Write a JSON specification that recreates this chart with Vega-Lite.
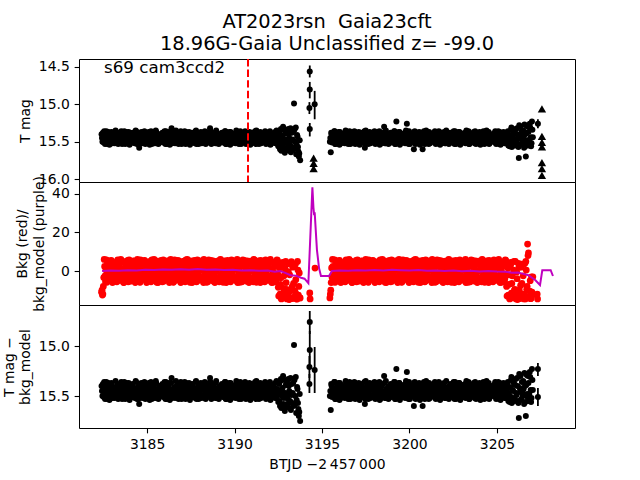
{
"$schema": "https://vega.github.io/schema/vega-lite/v6.json",
"background": "white",
"padding": {"left": 1, "top": 11, "right": 60, "bottom": 2},
"spacing": 0,
"bounds": "flush",
"config": {
  "font": "DejaVu Sans",
  "view": {"stroke": "black", "strokeWidth": 1},
  "axis": {"grid": false, "domain": false, "tickColor": "black", "tickSize": 4.86, "tickWidth": 1.1, "labelFontSize": 13.9, "labelColor": "black", "labelPadding": 4.86, "titleFontSize": 13.9, "titleFontWeight": "normal", "titleColor": "black", "titlePadding": 5.56, "titleLineHeight": 16.7, "labelFlush": false, "labelOverlap": false, "labelBound": false}
},
"datasets": {
"band": [
{"t":3182.40,"m":15.40,"k":-11},{"t":3182.45,"m":15.50,"k":-12.5},{"t":3182.50,"m":15.43,"k":-8},{"t":3182.55,"m":15.36,"k":6.0},{"t":3182.60,"m":15.53,"k":-2.6},{"t":3182.65,"m":15.46,"k":0.5},{"t":3182.70,"m":15.41,"k":-5.9},{"t":3182.75,"m":15.49,"k":4.6},{"t":3182.80,"m":15.37,"k":-1.3},{"t":3182.85,"m":15.54,"k":2.9},
{"t":3182.90,"m":15.44,"k":-4.0},{"t":3182.95,"m":15.39,"k":5.5},{"t":3183.00,"m":15.51,"k":-0.5},{"t":3183.05,"m":15.47,"k":2.1},{"t":3183.10,"m":15.42,"k":-5.3},{"t":3183.15,"m":15.52,"k":4.0},{"t":3183.20,"m":15.35,"k":-3.1},{"t":3183.25,"m":15.48,"k":0.1},{"t":3183.30,"m":15.45,"k":5.1},{"t":3183.35,"m":15.53,"k":3.5},
{"t":3183.40,"m":15.40,"k":-4.8},{"t":3183.45,"m":15.50,"k":1.6},{"t":3183.50,"m":15.43,"k":6.0},{"t":3183.55,"m":15.40,"k":-2.6},{"t":3183.60,"m":15.50,"k":0.5},{"t":3183.65,"m":15.43,"k":-5.9},{"t":3183.70,"m":15.36,"k":4.6},{"t":3183.75,"m":15.53,"k":-1.3},{"t":3183.80,"m":15.46,"k":2.9},{"t":3183.85,"m":15.41,"k":-4.0},
{"t":3183.90,"m":15.49,"k":5.5},{"t":3183.95,"m":15.37,"k":-0.5},{"t":3184.00,"m":15.54,"k":2.1},{"t":3184.05,"m":15.44,"k":-5.3},{"t":3184.10,"m":15.39,"k":4.0},{"t":3184.15,"m":15.51,"k":-3.1},{"t":3184.20,"m":15.47,"k":0.1},{"t":3184.25,"m":15.42,"k":5.1},{"t":3184.30,"m":15.52,"k":3.5},{"t":3184.35,"m":15.35,"k":-4.8},
{"t":3184.40,"m":15.48,"k":1.6},{"t":3184.45,"m":15.45,"k":6.0},{"t":3184.50,"m":15.53,"k":-2.6},{"t":3184.55,"m":15.58,"k":0.5},{"t":3184.60,"m":15.50,"k":-5.9},{"t":3184.65,"m":15.43,"k":4.6},{"t":3184.70,"m":15.40,"k":-1.3},{"t":3184.75,"m":15.50,"k":2.9},{"t":3184.80,"m":15.43,"k":-4.0},{"t":3184.85,"m":15.36,"k":5.5},
{"t":3184.90,"m":15.53,"k":-0.5},{"t":3184.95,"m":15.46,"k":2.1},{"t":3185.00,"m":15.41,"k":-5.3},{"t":3185.05,"m":15.49,"k":4.0},{"t":3185.10,"m":15.37,"k":-3.1},{"t":3185.15,"m":15.54,"k":0.1},{"t":3185.20,"m":15.44,"k":5.1},{"t":3185.25,"m":15.39,"k":3.5},{"t":3185.30,"m":15.51,"k":-4.8},{"t":3185.35,"m":15.47,"k":1.6},
{"t":3185.40,"m":15.42,"k":6.0},{"t":3185.45,"m":15.52,"k":-2.6},{"t":3185.50,"m":15.35,"k":0.5},{"t":3185.55,"m":15.48,"k":-5.9},{"t":3185.60,"m":15.45,"k":4.6},{"t":3185.65,"m":15.53,"k":-1.3},{"t":3185.70,"m":15.40,"k":2.9},{"t":3185.75,"m":15.50,"k":-4.0},{"t":3185.80,"m":15.43,"k":5.5},{"t":3185.85,"m":15.40,"k":-0.5},
{"t":3185.90,"m":15.50,"k":2.1},{"t":3185.95,"m":15.43,"k":-5.3},{"t":3186.00,"m":15.36,"k":4.0},{"t":3186.05,"m":15.53,"k":-3.1},{"t":3186.10,"m":15.46,"k":0.1},{"t":3186.15,"m":15.41,"k":5.1},{"t":3186.20,"m":15.49,"k":3.5},{"t":3186.25,"m":15.37,"k":-4.8},{"t":3186.30,"m":15.54,"k":1.6},{"t":3186.35,"m":15.44,"k":6.0},
{"t":3186.40,"m":15.32,"k":-2.6},{"t":3186.45,"m":15.51,"k":0.5},{"t":3186.50,"m":15.47,"k":-5.9},{"t":3186.55,"m":15.42,"k":4.6},{"t":3186.60,"m":15.52,"k":-1.3},{"t":3186.65,"m":15.35,"k":2.9},{"t":3186.70,"m":15.48,"k":-4.0},{"t":3186.75,"m":15.45,"k":5.5},{"t":3186.80,"m":15.53,"k":-0.5},{"t":3186.85,"m":15.40,"k":2.1},
{"t":3186.90,"m":15.50,"k":-5.3},{"t":3186.95,"m":15.43,"k":4.0},{"t":3187.00,"m":15.40,"k":-3.1},{"t":3187.05,"m":15.50,"k":0.1},{"t":3187.10,"m":15.43,"k":5.1},{"t":3187.15,"m":15.36,"k":3.5},{"t":3187.20,"m":15.53,"k":-4.8},{"t":3187.25,"m":15.46,"k":1.6},{"t":3187.30,"m":15.41,"k":6.0},{"t":3187.35,"m":15.49,"k":-2.6},
{"t":3187.40,"m":15.37,"k":0.5},{"t":3187.45,"m":15.54,"k":-5.9},{"t":3187.50,"m":15.44,"k":4.6},{"t":3187.55,"m":15.39,"k":-1.3},{"t":3187.60,"m":15.51,"k":2.9},{"t":3187.65,"m":15.47,"k":-4.0},{"t":3187.70,"m":15.42,"k":5.5},{"t":3187.75,"m":15.52,"k":-0.5},{"t":3187.80,"m":15.35,"k":2.1},{"t":3187.85,"m":15.48,"k":-5.3},
{"t":3187.90,"m":15.45,"k":4.0},{"t":3187.95,"m":15.53,"k":-3.1},{"t":3188.00,"m":15.40,"k":0.1},{"t":3188.05,"m":15.50,"k":5.1},{"t":3188.10,"m":15.43,"k":3.5},{"t":3188.15,"m":15.40,"k":-4.8},{"t":3188.20,"m":15.50,"k":1.6},{"t":3188.25,"m":15.43,"k":6.0},{"t":3188.30,"m":15.36,"k":-2.6},{"t":3188.35,"m":15.53,"k":0.5},
{"t":3188.40,"m":15.46,"k":-5.9},{"t":3188.45,"m":15.41,"k":4.6},{"t":3188.50,"m":15.49,"k":-1.3},{"t":3188.55,"m":15.37,"k":2.9},{"t":3188.60,"m":15.32,"k":-4.0},{"t":3188.65,"m":15.44,"k":5.5},{"t":3188.70,"m":15.39,"k":-0.5},{"t":3188.75,"m":15.51,"k":2.1},{"t":3188.80,"m":15.47,"k":-5.3},{"t":3188.85,"m":15.42,"k":4.0},
{"t":3188.90,"m":15.52,"k":-3.1},{"t":3188.95,"m":15.35,"k":0.1},{"t":3189.00,"m":15.48,"k":5.1},{"t":3189.05,"m":15.45,"k":3.5},{"t":3189.10,"m":15.53,"k":-4.8},{"t":3189.15,"m":15.40,"k":1.6},{"t":3189.20,"m":15.50,"k":6.0},{"t":3189.25,"m":15.43,"k":-2.6},{"t":3189.30,"m":15.40,"k":0.5},{"t":3189.35,"m":15.50,"k":-5.9},
{"t":3189.40,"m":15.43,"k":4.6},{"t":3189.45,"m":15.36,"k":-1.3},{"t":3189.50,"m":15.53,"k":2.9},{"t":3189.55,"m":15.46,"k":-4.0},{"t":3189.60,"m":15.41,"k":5.5},{"t":3189.65,"m":15.49,"k":-0.5},{"t":3189.70,"m":15.37,"k":2.1},{"t":3189.75,"m":15.54,"k":-5.3},{"t":3189.80,"m":15.44,"k":4.0},{"t":3189.85,"m":15.39,"k":-3.1},
{"t":3189.90,"m":15.51,"k":0.1},{"t":3189.95,"m":15.47,"k":5.1},{"t":3190.00,"m":15.42,"k":3.5},{"t":3190.05,"m":15.52,"k":-4.8},{"t":3190.10,"m":15.35,"k":1.6},{"t":3190.15,"m":15.48,"k":6.0},{"t":3190.20,"m":15.45,"k":-2.6},{"t":3190.25,"m":15.53,"k":0.5},{"t":3190.30,"m":15.40,"k":-5.9},{"t":3190.35,"m":15.50,"k":4.6},
{"t":3190.40,"m":15.43,"k":-1.3},{"t":3190.45,"m":15.40,"k":2.9},{"t":3190.50,"m":15.50,"k":-4.0},{"t":3190.55,"m":15.43,"k":5.5},{"t":3190.60,"m":15.36,"k":-0.5},{"t":3190.65,"m":15.53,"k":2.1},{"t":3190.70,"m":15.46,"k":-5.3},{"t":3190.75,"m":15.41,"k":4.0},{"t":3190.80,"m":15.49,"k":-3.1},{"t":3190.85,"m":15.37,"k":0.1},
{"t":3190.90,"m":15.54,"k":5.1},{"t":3190.95,"m":15.44,"k":3.5},{"t":3191.00,"m":15.39,"k":-4.8},{"t":3191.05,"m":15.51,"k":1.6},{"t":3191.10,"m":15.47,"k":6.0},{"t":3191.15,"m":15.42,"k":-2.6},{"t":3191.20,"m":15.52,"k":0.5},{"t":3191.25,"m":15.35,"k":-5.9},{"t":3191.30,"m":15.48,"k":4.6},{"t":3191.35,"m":15.45,"k":-1.3},
{"t":3191.40,"m":15.53,"k":2.9},{"t":3191.45,"m":15.40,"k":-4.0},{"t":3191.50,"m":15.50,"k":5.5},{"t":3191.55,"m":15.43,"k":-0.5},{"t":3191.60,"m":15.40,"k":2.1},{"t":3191.65,"m":15.50,"k":-5.3},{"t":3191.70,"m":15.43,"k":4.0},{"t":3191.75,"m":15.36,"k":-3.1},{"t":3191.80,"m":15.53,"k":0.1},{"t":3191.85,"m":15.46,"k":5.1},
{"t":3191.90,"m":15.41,"k":3.5},{"t":3191.95,"m":15.49,"k":-4.8},{"t":3192.00,"m":15.37,"k":1.6},{"t":3192.05,"m":15.54,"k":6.0},{"t":3192.10,"m":15.44,"k":-2.6},{"t":3192.15,"m":15.39,"k":0.5},{"t":3192.20,"m":15.51,"k":-5.9},{"t":3192.25,"m":15.47,"k":4.6},{"t":3192.30,"m":15.42,"k":-1.3},{"t":3192.35,"m":15.52,"k":2.9},
{"t":3192.40,"m":15.35,"k":-4.0},{"t":3192.45,"m":15.48,"k":5.5},{"t":3192.50,"m":15.56,"k":-8.5},{"t":3192.55,"m":15.38,"k":3.0},{"t":3192.60,"m":15.60,"k":-12.0},{"t":3192.65,"m":15.33,"k":-3.5},{"t":3192.70,"m":15.50,"k":-14.0},{"t":3192.75,"m":15.42,"k":4.5},{"t":3192.80,"m":15.58,"k":-9.0},{"t":3192.85,"m":15.34,"k":-13.5},
{"t":3192.90,"m":15.47,"k":1.0},{"t":3192.95,"m":15.61,"k":-6.0},{"t":3193.00,"m":15.36,"k":-14.5},{"t":3193.05,"m":15.53,"k":3.8},{"t":3193.10,"m":15.40,"k":-11.0},{"t":3193.15,"m":15.62,"k":-2.0},{"t":3193.20,"m":15.32,"k":-13.8},{"t":3193.25,"m":15.49,"k":4.8},{"t":3193.30,"m":15.57,"k":-8.0},{"t":3193.35,"m":15.37,"k":-14.2},
{"t":3193.40,"m":14.99,"k":2.5},{"t":3193.45,"m":15.59,"k":-10.5},{"t":3193.50,"m":15.31,"k":-4.5},{"t":3193.55,"m":15.54,"k":-14.6},{"t":3193.60,"m":15.43,"k":5.0},{"t":3193.65,"m":15.63,"k":-12.5},{"t":3193.70,"m":15.66,"k":-1.0},{"t":3193.75,"m":15.75,"k":-14.0},
{"t":3182.425,"m":15.45,"k":-10},{"t":3182.475,"m":15.38,"k":-12},{"t":3182.525,"m":15.51,"k":-3.4},{"t":3182.575,"m":15.42,"k":2.4},{"t":3182.625,"m":15.48,"k":-5.6},{"t":3182.675,"m":15.36,"k":5.8},{"t":3182.725,"m":15.53,"k":-1.8},{"t":3182.775,"m":15.44,"k":3.2},{"t":3182.825,"m":15.40,"k":-4.4},{"t":3182.875,"m":15.50,"k":1.1},
{"t":3182.925,"m":15.46,"k":5.2},{"t":3182.975,"m":15.37,"k":-2.9},{"t":3183.025,"m":15.52,"k":-6.0},{"t":3183.075,"m":15.43,"k":0.0},{"t":3183.125,"m":15.49,"k":4.3},{"t":3183.175,"m":15.41,"k":-3.4},{"t":3183.225,"m":15.47,"k":2.4},{"t":3183.275,"m":15.45,"k":-5.6},{"t":3183.325,"m":15.38,"k":5.8},{"t":3183.375,"m":15.51,"k":-1.8},
{"t":3183.425,"m":15.42,"k":3.2},{"t":3183.475,"m":15.48,"k":-4.4},{"t":3183.525,"m":15.36,"k":1.1},{"t":3183.575,"m":15.53,"k":5.2},{"t":3183.625,"m":15.44,"k":-2.9},{"t":3183.675,"m":15.40,"k":-6.0},{"t":3183.725,"m":15.50,"k":0.0},{"t":3183.775,"m":15.46,"k":4.3},{"t":3183.825,"m":15.37,"k":-3.4},{"t":3183.875,"m":15.52,"k":2.4},
{"t":3183.925,"m":15.43,"k":-5.6},{"t":3183.975,"m":15.49,"k":5.8},{"t":3184.025,"m":15.41,"k":-1.8},{"t":3184.075,"m":15.47,"k":3.2},{"t":3184.125,"m":15.45,"k":-4.4},{"t":3184.175,"m":15.38,"k":1.1},{"t":3184.225,"m":15.51,"k":5.2},{"t":3184.275,"m":15.42,"k":-2.9},{"t":3184.325,"m":15.48,"k":-6.0},{"t":3184.375,"m":15.36,"k":0.0},
{"t":3184.425,"m":15.53,"k":4.3},{"t":3184.475,"m":15.44,"k":-3.4},{"t":3184.525,"m":15.40,"k":2.4},{"t":3184.575,"m":15.50,"k":-5.6},{"t":3184.625,"m":15.46,"k":5.8},{"t":3184.675,"m":15.37,"k":-1.8},{"t":3184.725,"m":15.52,"k":3.2},{"t":3184.775,"m":15.43,"k":-4.4},{"t":3184.825,"m":15.49,"k":1.1},{"t":3184.875,"m":15.41,"k":5.2},
{"t":3184.925,"m":15.47,"k":-2.9},{"t":3184.975,"m":15.45,"k":-6.0},{"t":3185.025,"m":15.38,"k":0.0},{"t":3185.075,"m":15.51,"k":4.3},{"t":3185.125,"m":15.42,"k":-3.4},{"t":3185.175,"m":15.48,"k":2.4},{"t":3185.225,"m":15.36,"k":-5.6},{"t":3185.275,"m":15.53,"k":5.8},{"t":3185.325,"m":15.44,"k":-1.8},{"t":3185.375,"m":15.40,"k":3.2},
{"t":3185.425,"m":15.50,"k":-4.4},{"t":3185.475,"m":15.46,"k":1.1},{"t":3185.525,"m":15.37,"k":5.2},{"t":3185.575,"m":15.52,"k":-2.9},{"t":3185.625,"m":15.43,"k":-6.0},{"t":3185.675,"m":15.49,"k":0.0},{"t":3185.725,"m":15.41,"k":4.3},{"t":3185.775,"m":15.47,"k":-3.4},{"t":3185.825,"m":15.45,"k":2.4},{"t":3185.875,"m":15.38,"k":-5.6},
{"t":3185.925,"m":15.51,"k":5.8},{"t":3185.975,"m":15.42,"k":-1.8},{"t":3186.025,"m":15.48,"k":3.2},{"t":3186.075,"m":15.36,"k":-4.4},{"t":3186.125,"m":15.53,"k":1.1},{"t":3186.175,"m":15.44,"k":5.2},{"t":3186.225,"m":15.40,"k":-2.9},{"t":3186.275,"m":15.50,"k":-6.0},{"t":3186.325,"m":15.46,"k":0.0},{"t":3186.375,"m":15.37,"k":4.3},
{"t":3186.425,"m":15.52,"k":-3.4},{"t":3186.475,"m":15.43,"k":2.4},{"t":3186.525,"m":15.49,"k":-5.6},{"t":3186.575,"m":15.41,"k":5.8},{"t":3186.625,"m":15.47,"k":-1.8},{"t":3186.675,"m":15.45,"k":3.2},{"t":3186.725,"m":15.38,"k":-4.4},{"t":3186.775,"m":15.51,"k":1.1},{"t":3186.825,"m":15.42,"k":5.2},{"t":3186.875,"m":15.48,"k":-2.9},
{"t":3186.925,"m":15.36,"k":-6.0},{"t":3186.975,"m":15.53,"k":0.0},{"t":3187.025,"m":15.44,"k":4.3},{"t":3187.075,"m":15.40,"k":-3.4},{"t":3187.125,"m":15.50,"k":2.4},{"t":3187.175,"m":15.46,"k":-5.6},{"t":3187.225,"m":15.37,"k":5.8},{"t":3187.275,"m":15.52,"k":-1.8},{"t":3187.325,"m":15.43,"k":3.2},{"t":3187.375,"m":15.49,"k":-4.4},
{"t":3187.425,"m":15.41,"k":1.1},{"t":3187.475,"m":15.47,"k":5.2},{"t":3187.525,"m":15.45,"k":-2.9},{"t":3187.575,"m":15.38,"k":-6.0},{"t":3187.625,"m":15.51,"k":0.0},{"t":3187.675,"m":15.42,"k":4.3},{"t":3187.725,"m":15.48,"k":-3.4},{"t":3187.775,"m":15.36,"k":2.4},{"t":3187.825,"m":15.53,"k":-5.6},{"t":3187.875,"m":15.44,"k":5.8},
{"t":3187.925,"m":15.40,"k":-1.8},{"t":3187.975,"m":15.50,"k":3.2},{"t":3188.025,"m":15.46,"k":-4.4},{"t":3188.075,"m":15.37,"k":1.1},{"t":3188.125,"m":15.52,"k":5.2},{"t":3188.175,"m":15.43,"k":-2.9},{"t":3188.225,"m":15.49,"k":-6.0},{"t":3188.275,"m":15.41,"k":0.0},{"t":3188.325,"m":15.47,"k":4.3},{"t":3188.375,"m":15.45,"k":-3.4},
{"t":3188.425,"m":15.38,"k":2.4},{"t":3188.475,"m":15.51,"k":-5.6},{"t":3188.525,"m":15.42,"k":5.8},{"t":3188.575,"m":15.48,"k":-1.8},{"t":3188.625,"m":15.36,"k":3.2},{"t":3188.675,"m":15.53,"k":-4.4},{"t":3188.725,"m":15.44,"k":1.1},{"t":3188.775,"m":15.40,"k":5.2},{"t":3188.825,"m":15.50,"k":-2.9},{"t":3188.875,"m":15.46,"k":-6.0},
{"t":3188.925,"m":15.37,"k":0.0},{"t":3188.975,"m":15.52,"k":4.3},{"t":3189.025,"m":15.43,"k":-3.4},{"t":3189.075,"m":15.49,"k":2.4},{"t":3189.125,"m":15.41,"k":-5.6},{"t":3189.175,"m":15.47,"k":5.8},{"t":3189.225,"m":15.45,"k":-1.8},{"t":3189.275,"m":15.38,"k":3.2},{"t":3189.325,"m":15.51,"k":-4.4},{"t":3189.375,"m":15.42,"k":1.1},
{"t":3189.425,"m":15.48,"k":5.2},{"t":3189.475,"m":15.36,"k":-2.9},{"t":3189.525,"m":15.53,"k":-6.0},{"t":3189.575,"m":15.44,"k":0.0},{"t":3189.625,"m":15.40,"k":4.3},{"t":3189.675,"m":15.50,"k":-3.4},{"t":3189.725,"m":15.46,"k":2.4},{"t":3189.775,"m":15.37,"k":-5.6},{"t":3189.825,"m":15.52,"k":5.8},{"t":3189.875,"m":15.43,"k":-1.8},
{"t":3189.925,"m":15.49,"k":3.2},{"t":3189.975,"m":15.41,"k":-4.4},{"t":3190.025,"m":15.47,"k":1.1},{"t":3190.075,"m":15.45,"k":5.2},{"t":3190.125,"m":15.38,"k":-2.9},{"t":3190.175,"m":15.51,"k":-6.0},{"t":3190.225,"m":15.42,"k":0.0},{"t":3190.275,"m":15.48,"k":4.3},{"t":3190.325,"m":15.36,"k":-3.4},{"t":3190.375,"m":15.53,"k":2.4},
{"t":3190.425,"m":15.44,"k":-5.6},{"t":3190.475,"m":15.40,"k":5.8},{"t":3190.525,"m":15.50,"k":-1.8},{"t":3190.575,"m":15.46,"k":3.2},{"t":3190.625,"m":15.37,"k":-4.4},{"t":3190.675,"m":15.52,"k":1.1},{"t":3190.725,"m":15.43,"k":5.2},{"t":3190.775,"m":15.49,"k":-2.9},{"t":3190.825,"m":15.41,"k":-6.0},{"t":3190.875,"m":15.47,"k":0.0},
{"t":3190.925,"m":15.45,"k":4.3},{"t":3190.975,"m":15.38,"k":-3.4},{"t":3191.025,"m":15.51,"k":2.4},{"t":3191.075,"m":15.42,"k":-5.6},{"t":3191.125,"m":15.48,"k":5.8},{"t":3191.175,"m":15.36,"k":-1.8},{"t":3191.225,"m":15.53,"k":3.2},{"t":3191.275,"m":15.44,"k":-4.4},{"t":3191.325,"m":15.40,"k":1.1},{"t":3191.375,"m":15.50,"k":5.2},
{"t":3191.425,"m":15.46,"k":-2.9},{"t":3191.475,"m":15.37,"k":-6.0},{"t":3191.525,"m":15.52,"k":0.0},{"t":3191.575,"m":15.43,"k":4.3},{"t":3191.625,"m":15.49,"k":-3.4},{"t":3191.675,"m":15.41,"k":2.4},{"t":3191.725,"m":15.47,"k":-5.6},{"t":3191.775,"m":15.45,"k":5.8},{"t":3191.825,"m":15.38,"k":-1.8},{"t":3191.875,"m":15.51,"k":3.2},
{"t":3191.925,"m":15.42,"k":-4.4},{"t":3191.975,"m":15.48,"k":1.1},{"t":3192.025,"m":15.36,"k":5.2},{"t":3192.075,"m":15.53,"k":-2.9},{"t":3192.125,"m":15.44,"k":-6.0},{"t":3192.175,"m":15.40,"k":0.0},{"t":3192.225,"m":15.50,"k":4.3},{"t":3192.275,"m":15.46,"k":-3.4},{"t":3192.325,"m":15.37,"k":2.4},{"t":3192.375,"m":15.52,"k":-5.6},
{"t":3192.425,"m":15.43,"k":5.8},{"t":3192.475,"m":15.49,"k":-1.8},{"t":3192.525,"m":15.44,"k":-13.0},{"t":3192.575,"m":15.55,"k":1.5},{"t":3192.625,"m":15.35,"k":-7.0},{"t":3192.675,"m":15.62,"k":-14.5},{"t":3192.725,"m":15.46,"k":3.0},{"t":3192.775,"m":15.30,"k":-11.5},{"t":3192.825,"m":15.52,"k":-2.5},{"t":3192.875,"m":15.65,"k":-14.0},
{"t":3192.925,"m":15.39,"k":5.0},{"t":3192.975,"m":15.49,"k":-9.5},{"t":3193.025,"m":15.58,"k":-13.0},{"t":3193.075,"m":15.33,"k":-0.5},{"t":3193.125,"m":15.45,"k":-14.8},{"t":3193.175,"m":15.55,"k":4.0},{"t":3193.225,"m":15.64,"k":-10.0},{"t":3193.275,"m":15.38,"k":-14.3},{"t":3193.325,"m":15.47,"k":2.0},{"t":3193.375,"m":15.60,"k":-6.5},
{"t":3193.425,"m":15.34,"k":-13.5},{"t":3193.475,"m":15.50,"k":3.5},{"t":3193.525,"m":15.67,"k":-12.0},{"t":3193.575,"m":15.41,"k":-14.5},{"t":3193.625,"m":15.57,"k":0.5},{"t":3193.675,"m":15.70,"k":-8.0},{"t":3193.725,"m":15.48,"k":-14.0},
{"t":3195.45,"m":15.50,"k":-14.0},{"t":3195.50,"m":15.64,"k":-10.0},{"t":3195.55,"m":15.40,"k":1.6},{"t":3195.60,"m":15.50,"k":6.0},{"t":3195.65,"m":15.43,"k":-2.6},{"t":3195.70,"m":15.36,"k":0.5},{"t":3195.75,"m":15.53,"k":-5.9},{"t":3195.80,"m":15.46,"k":4.6},{"t":3195.85,"m":15.41,"k":-1.3},{"t":3195.90,"m":15.49,"k":2.9},
{"t":3195.95,"m":15.37,"k":-4.0},{"t":3196.00,"m":15.54,"k":5.5},{"t":3196.05,"m":15.44,"k":-0.5},{"t":3196.10,"m":15.39,"k":2.1},{"t":3196.15,"m":15.51,"k":-5.3},{"t":3196.20,"m":15.47,"k":4.0},{"t":3196.25,"m":15.42,"k":-3.1},{"t":3196.30,"m":15.52,"k":0.1},{"t":3196.35,"m":15.35,"k":5.1},{"t":3196.40,"m":15.48,"k":3.5},
{"t":3196.45,"m":15.45,"k":-4.8},{"t":3196.50,"m":15.53,"k":1.6},{"t":3196.55,"m":15.40,"k":6.0},{"t":3196.60,"m":15.50,"k":-2.6},{"t":3196.65,"m":15.43,"k":0.5},{"t":3196.70,"m":15.40,"k":-5.9},{"t":3196.75,"m":15.50,"k":4.6},{"t":3196.80,"m":15.43,"k":-1.3},{"t":3196.85,"m":15.36,"k":2.9},{"t":3196.90,"m":15.53,"k":-4.0},
{"t":3196.95,"m":15.46,"k":5.5},{"t":3197.00,"m":15.41,"k":-0.5},{"t":3197.05,"m":15.49,"k":2.1},{"t":3197.10,"m":15.37,"k":-5.3},{"t":3197.15,"m":15.54,"k":4.0},{"t":3197.20,"m":15.44,"k":-3.1},{"t":3197.25,"m":15.39,"k":0.1},{"t":3197.30,"m":15.51,"k":5.1},{"t":3197.35,"m":15.47,"k":3.5},{"t":3197.40,"m":15.42,"k":-4.8},
{"t":3197.45,"m":15.58,"k":1.6},{"t":3197.50,"m":15.35,"k":6.0},{"t":3197.55,"m":15.48,"k":-2.6},{"t":3197.60,"m":15.45,"k":0.5},{"t":3197.65,"m":15.53,"k":-5.9},{"t":3197.70,"m":15.40,"k":4.6},{"t":3197.75,"m":15.50,"k":-1.3},{"t":3197.80,"m":15.43,"k":2.9},{"t":3197.85,"m":15.40,"k":-4.0},{"t":3197.90,"m":15.50,"k":5.5},
{"t":3197.95,"m":15.43,"k":-0.5},{"t":3198.00,"m":15.36,"k":2.1},{"t":3198.05,"m":15.53,"k":-5.3},{"t":3198.10,"m":15.46,"k":4.0},{"t":3198.15,"m":15.41,"k":-3.1},{"t":3198.20,"m":15.49,"k":0.1},{"t":3198.25,"m":15.37,"k":5.1},{"t":3198.30,"m":15.54,"k":3.5},{"t":3198.35,"m":15.44,"k":-4.8},{"t":3198.40,"m":15.39,"k":1.6},
{"t":3198.45,"m":15.51,"k":6.0},{"t":3198.50,"m":15.47,"k":-2.6},{"t":3198.55,"m":15.30,"k":0.5},{"t":3198.60,"m":15.52,"k":-5.9},{"t":3198.65,"m":15.35,"k":4.6},{"t":3198.70,"m":15.48,"k":-1.3},{"t":3198.75,"m":15.45,"k":2.9},{"t":3198.80,"m":15.53,"k":-4.0},{"t":3198.85,"m":15.40,"k":5.5},{"t":3198.90,"m":15.50,"k":-0.5},
{"t":3198.95,"m":15.43,"k":2.1},{"t":3199.00,"m":15.40,"k":-5.3},{"t":3199.05,"m":15.50,"k":4.0},{"t":3199.10,"m":15.43,"k":-3.1},{"t":3199.15,"m":15.36,"k":0.1},{"t":3199.20,"m":15.53,"k":5.1},{"t":3199.25,"m":15.23,"k":3.5},{"t":3199.30,"m":15.41,"k":-4.8},{"t":3199.35,"m":15.49,"k":1.6},{"t":3199.40,"m":15.37,"k":6.0},
{"t":3199.45,"m":15.54,"k":-2.6},{"t":3199.50,"m":15.44,"k":0.5},{"t":3199.55,"m":15.39,"k":-5.9},{"t":3199.60,"m":15.51,"k":4.6},{"t":3199.65,"m":15.47,"k":-1.3},{"t":3199.70,"m":15.42,"k":2.9},{"t":3199.75,"m":15.52,"k":-4.0},{"t":3199.80,"m":15.35,"k":5.5},{"t":3199.85,"m":15.26,"k":-0.5},{"t":3199.90,"m":15.45,"k":2.1},
{"t":3199.95,"m":15.53,"k":-5.3},{"t":3200.00,"m":15.40,"k":4.0},{"t":3200.05,"m":15.50,"k":-3.1},{"t":3200.10,"m":15.43,"k":0.1},{"t":3200.15,"m":15.40,"k":5.1},{"t":3200.20,"m":15.50,"k":3.5},{"t":3200.25,"m":15.60,"k":-4.8},{"t":3200.30,"m":15.36,"k":1.6},{"t":3200.35,"m":15.53,"k":6.0},{"t":3200.40,"m":15.46,"k":-2.6},
{"t":3200.45,"m":15.41,"k":0.5},{"t":3200.50,"m":15.49,"k":-5.9},{"t":3200.55,"m":15.37,"k":4.6},{"t":3200.60,"m":15.54,"k":-1.3},{"t":3200.65,"m":15.44,"k":2.9},{"t":3200.70,"m":15.39,"k":-4.0},{"t":3200.75,"m":15.60,"k":5.5},{"t":3200.80,"m":15.47,"k":-0.5},{"t":3200.85,"m":15.42,"k":2.1},{"t":3200.90,"m":15.52,"k":-5.3},
{"t":3200.95,"m":15.35,"k":4.0},{"t":3201.00,"m":15.48,"k":-3.1},{"t":3201.05,"m":15.45,"k":0.1},{"t":3201.10,"m":15.53,"k":5.1},{"t":3201.15,"m":15.40,"k":3.5},{"t":3201.20,"m":15.50,"k":-4.8},{"t":3201.25,"m":15.43,"k":1.6},{"t":3201.30,"m":15.40,"k":6.0},{"t":3201.35,"m":15.50,"k":-2.6},{"t":3201.40,"m":15.43,"k":0.5},
{"t":3201.45,"m":15.36,"k":-5.9},{"t":3201.50,"m":15.53,"k":4.6},{"t":3201.55,"m":15.46,"k":-1.3},{"t":3201.60,"m":15.41,"k":2.9},{"t":3201.65,"m":15.49,"k":-4.0},{"t":3201.70,"m":15.37,"k":5.5},{"t":3201.75,"m":15.54,"k":-0.5},{"t":3201.80,"m":15.44,"k":2.1},{"t":3201.85,"m":15.39,"k":-5.3},{"t":3201.90,"m":15.51,"k":4.0},
{"t":3201.95,"m":15.47,"k":-3.1},{"t":3202.00,"m":15.42,"k":0.1},{"t":3202.05,"m":15.52,"k":5.1},{"t":3202.10,"m":15.35,"k":3.5},{"t":3202.15,"m":15.48,"k":-4.8},{"t":3202.20,"m":15.45,"k":1.6},{"t":3202.25,"m":15.53,"k":6.0},{"t":3202.30,"m":15.40,"k":-2.6},{"t":3202.35,"m":15.50,"k":0.5},{"t":3202.40,"m":15.43,"k":-5.9},
{"t":3202.45,"m":15.40,"k":4.6},{"t":3202.50,"m":15.50,"k":-1.3},{"t":3202.55,"m":15.43,"k":2.9},{"t":3202.60,"m":15.36,"k":-4.0},{"t":3202.65,"m":15.53,"k":5.5},{"t":3202.70,"m":15.46,"k":-0.5},{"t":3202.75,"m":15.41,"k":2.1},{"t":3202.80,"m":15.49,"k":-5.3},{"t":3202.85,"m":15.37,"k":4.0},{"t":3202.90,"m":15.54,"k":-3.1},
{"t":3202.95,"m":15.44,"k":0.1},{"t":3203.00,"m":15.39,"k":5.1},{"t":3203.05,"m":15.51,"k":3.5},{"t":3203.10,"m":15.47,"k":-4.8},{"t":3203.15,"m":15.42,"k":1.6},{"t":3203.20,"m":15.52,"k":6.0},{"t":3203.25,"m":15.35,"k":-2.6},{"t":3203.30,"m":15.48,"k":0.5},{"t":3203.35,"m":15.45,"k":-5.9},{"t":3203.40,"m":15.53,"k":4.6},
{"t":3203.45,"m":15.40,"k":-1.3},{"t":3203.50,"m":15.50,"k":2.9},{"t":3203.55,"m":15.43,"k":-4.0},{"t":3203.60,"m":15.40,"k":5.5},{"t":3203.65,"m":15.50,"k":-0.5},{"t":3203.70,"m":15.43,"k":2.1},{"t":3203.75,"m":15.36,"k":-5.3},{"t":3203.80,"m":15.53,"k":4.0},{"t":3203.85,"m":15.46,"k":-3.1},{"t":3203.90,"m":15.41,"k":0.1},
{"t":3203.95,"m":15.49,"k":5.1},{"t":3204.00,"m":15.37,"k":3.5},{"t":3204.05,"m":15.54,"k":-4.8},{"t":3204.10,"m":15.44,"k":1.6},{"t":3204.15,"m":15.39,"k":6.0},{"t":3204.20,"m":15.51,"k":-2.6},{"t":3204.25,"m":15.47,"k":0.5},{"t":3204.30,"m":15.42,"k":-5.9},{"t":3204.35,"m":15.52,"k":4.6},{"t":3204.40,"m":15.35,"k":-1.3},
{"t":3204.45,"m":15.48,"k":2.9},{"t":3204.50,"m":15.45,"k":-4.0},{"t":3204.55,"m":15.53,"k":5.5},{"t":3204.60,"m":15.40,"k":-0.5},{"t":3204.65,"m":15.50,"k":2.1},{"t":3204.70,"m":15.43,"k":-5.3},{"t":3204.75,"m":15.40,"k":4.0},{"t":3204.80,"m":15.50,"k":-3.1},{"t":3204.85,"m":15.43,"k":0.1},{"t":3204.90,"m":15.36,"k":5.1},
{"t":3204.95,"m":15.53,"k":3.5},{"t":3205.00,"m":15.46,"k":-4.8},{"t":3205.05,"m":15.41,"k":1.6},{"t":3205.10,"m":15.49,"k":6.0},{"t":3205.15,"m":15.37,"k":-2.6},{"t":3205.20,"m":15.54,"k":0.5},{"t":3205.25,"m":15.44,"k":-5.9},{"t":3205.30,"m":15.39,"k":4.6},{"t":3205.35,"m":15.51,"k":-1.3},{"t":3205.40,"m":15.47,"k":2.9},
{"t":3205.45,"m":15.42,"k":-4.0},{"t":3205.50,"m":15.52,"k":5.5},{"t":3205.55,"m":15.45,"k":-8.0},{"t":3205.60,"m":15.38,"k":3.0},{"t":3205.65,"m":15.55,"k":-12.5},{"t":3205.70,"m":15.41,"k":-2.0},{"t":3205.75,"m":15.50,"k":-14.0},{"t":3205.80,"m":15.34,"k":4.5},{"t":3205.85,"m":15.57,"k":-6.5},{"t":3205.90,"m":15.44,"k":-13.0},
{"t":3205.95,"m":15.36,"k":0.5},{"t":3206.00,"m":15.52,"k":-10.0},{"t":3206.05,"m":15.39,"k":5.0},{"t":3206.10,"m":15.47,"k":-14.5},{"t":3206.15,"m":15.32,"k":-4.0},{"t":3206.20,"m":15.55,"k":-11.5},{"t":3206.25,"m":15.72,"k":2.0},{"t":3206.30,"m":15.42,"k":-14.0},{"t":3206.35,"m":15.30,"k":-7.5},{"t":3206.40,"m":15.53,"k":3.5},
{"t":3206.45,"m":15.46,"k":-12.0},{"t":3206.50,"m":15.35,"k":-2.5},{"t":3206.55,"m":15.58,"k":-14.5},{"t":3206.60,"m":15.40,"k":4.0},{"t":3206.65,"m":15.70,"k":5.0},{"t":3206.70,"m":15.29,"k":-9.5},{"t":3206.75,"m":15.51,"k":14.0},{"t":3206.80,"m":15.37,"k":9.4},{"t":3206.85,"m":15.48,"k":-13.5},{"t":3206.90,"m":15.31,"k":-5.0},
{"t":3206.95,"m":15.56,"k":-14.2},{"t":3207.00,"m":15.23,"k":-11.0},{"t":3207.05,"m":15.44,"k":-3.0},
{"t":3195.475,"m":15.45,"k":-12},{"t":3195.525,"m":15.38,"k":-6},{"t":3195.575,"m":15.51,"k":-3.4},{"t":3195.625,"m":15.42,"k":2.4},{"t":3195.675,"m":15.48,"k":-5.6},{"t":3195.725,"m":15.36,"k":5.8},{"t":3195.775,"m":15.53,"k":-1.8},{"t":3195.825,"m":15.44,"k":3.2},{"t":3195.875,"m":15.40,"k":-4.4},{"t":3195.925,"m":15.50,"k":1.1},
{"t":3195.975,"m":15.46,"k":5.2},{"t":3196.025,"m":15.37,"k":-2.9},{"t":3196.075,"m":15.52,"k":-6.0},{"t":3196.125,"m":15.43,"k":0.0},{"t":3196.175,"m":15.49,"k":4.3},{"t":3196.225,"m":15.41,"k":-3.4},{"t":3196.275,"m":15.47,"k":2.4},{"t":3196.325,"m":15.45,"k":-5.6},{"t":3196.375,"m":15.38,"k":5.8},{"t":3196.425,"m":15.51,"k":-1.8},
{"t":3196.475,"m":15.42,"k":3.2},{"t":3196.525,"m":15.48,"k":-4.4},{"t":3196.575,"m":15.36,"k":1.1},{"t":3196.625,"m":15.53,"k":5.2},{"t":3196.675,"m":15.44,"k":-2.9},{"t":3196.725,"m":15.40,"k":-6.0},{"t":3196.775,"m":15.50,"k":0.0},{"t":3196.825,"m":15.46,"k":4.3},{"t":3196.875,"m":15.37,"k":-3.4},{"t":3196.925,"m":15.52,"k":2.4},
{"t":3196.975,"m":15.43,"k":-5.6},{"t":3197.025,"m":15.49,"k":5.8},{"t":3197.075,"m":15.41,"k":-1.8},{"t":3197.125,"m":15.47,"k":3.2},{"t":3197.175,"m":15.45,"k":-4.4},{"t":3197.225,"m":15.38,"k":1.1},{"t":3197.275,"m":15.51,"k":5.2},{"t":3197.325,"m":15.42,"k":-2.9},{"t":3197.375,"m":15.48,"k":-6.0},{"t":3197.425,"m":15.36,"k":0.0},
{"t":3197.475,"m":15.53,"k":4.3},{"t":3197.525,"m":15.44,"k":-3.4},{"t":3197.575,"m":15.40,"k":2.4},{"t":3197.625,"m":15.50,"k":-5.6},{"t":3197.675,"m":15.46,"k":5.8},{"t":3197.725,"m":15.37,"k":-1.8},{"t":3197.775,"m":15.52,"k":3.2},{"t":3197.825,"m":15.43,"k":-4.4},{"t":3197.875,"m":15.49,"k":1.1},{"t":3197.925,"m":15.41,"k":5.2},
{"t":3197.975,"m":15.47,"k":-2.9},{"t":3198.025,"m":15.45,"k":-6.0},{"t":3198.075,"m":15.38,"k":0.0},{"t":3198.125,"m":15.51,"k":4.3},{"t":3198.175,"m":15.42,"k":-3.4},{"t":3198.225,"m":15.48,"k":2.4},{"t":3198.275,"m":15.36,"k":-5.6},{"t":3198.325,"m":15.53,"k":5.8},{"t":3198.375,"m":15.44,"k":-1.8},{"t":3198.425,"m":15.40,"k":3.2},
{"t":3198.475,"m":15.50,"k":-4.4},{"t":3198.525,"m":15.46,"k":1.1},{"t":3198.575,"m":15.37,"k":5.2},{"t":3198.625,"m":15.52,"k":-2.9},{"t":3198.675,"m":15.43,"k":-6.0},{"t":3198.725,"m":15.49,"k":0.0},{"t":3198.775,"m":15.41,"k":4.3},{"t":3198.825,"m":15.47,"k":-3.4},{"t":3198.875,"m":15.45,"k":2.4},{"t":3198.925,"m":15.38,"k":-5.6},
{"t":3198.975,"m":15.51,"k":5.8},{"t":3199.025,"m":15.42,"k":-1.8},{"t":3199.075,"m":15.48,"k":3.2},{"t":3199.125,"m":15.36,"k":-4.4},{"t":3199.175,"m":15.53,"k":1.1},{"t":3199.225,"m":15.44,"k":5.2},{"t":3199.275,"m":15.40,"k":-2.9},{"t":3199.325,"m":15.50,"k":-6.0},{"t":3199.375,"m":15.46,"k":0.0},{"t":3199.425,"m":15.37,"k":4.3},
{"t":3199.475,"m":15.52,"k":-3.4},{"t":3199.525,"m":15.43,"k":2.4},{"t":3199.575,"m":15.49,"k":-5.6},{"t":3199.625,"m":15.41,"k":5.8},{"t":3199.675,"m":15.47,"k":-1.8},{"t":3199.725,"m":15.45,"k":3.2},{"t":3199.775,"m":15.38,"k":-4.4},{"t":3199.825,"m":15.51,"k":1.1},{"t":3199.875,"m":15.42,"k":5.2},{"t":3199.925,"m":15.48,"k":-2.9},
{"t":3199.975,"m":15.36,"k":-6.0},{"t":3200.025,"m":15.53,"k":0.0},{"t":3200.075,"m":15.44,"k":4.3},{"t":3200.125,"m":15.40,"k":-3.4},{"t":3200.175,"m":15.50,"k":2.4},{"t":3200.225,"m":15.46,"k":-5.6},{"t":3200.275,"m":15.37,"k":5.8},{"t":3200.325,"m":15.52,"k":-1.8},{"t":3200.375,"m":15.43,"k":3.2},{"t":3200.425,"m":15.49,"k":-4.4},
{"t":3200.475,"m":15.41,"k":1.1},{"t":3200.525,"m":15.47,"k":5.2},{"t":3200.575,"m":15.45,"k":-2.9},{"t":3200.625,"m":15.38,"k":-6.0},{"t":3200.675,"m":15.51,"k":0.0},{"t":3200.725,"m":15.42,"k":4.3},{"t":3200.775,"m":15.48,"k":-3.4},{"t":3200.825,"m":15.36,"k":2.4},{"t":3200.875,"m":15.53,"k":-5.6},{"t":3200.925,"m":15.44,"k":5.8},
{"t":3200.975,"m":15.40,"k":-1.8},{"t":3201.025,"m":15.50,"k":3.2},{"t":3201.075,"m":15.46,"k":-4.4},{"t":3201.125,"m":15.37,"k":1.1},{"t":3201.175,"m":15.52,"k":5.2},{"t":3201.225,"m":15.43,"k":-2.9},{"t":3201.275,"m":15.49,"k":-6.0},{"t":3201.325,"m":15.41,"k":0.0},{"t":3201.375,"m":15.47,"k":4.3},{"t":3201.425,"m":15.45,"k":-3.4},
{"t":3201.475,"m":15.38,"k":2.4},{"t":3201.525,"m":15.51,"k":-5.6},{"t":3201.575,"m":15.42,"k":5.8},{"t":3201.625,"m":15.48,"k":-1.8},{"t":3201.675,"m":15.36,"k":3.2},{"t":3201.725,"m":15.53,"k":-4.4},{"t":3201.775,"m":15.44,"k":1.1},{"t":3201.825,"m":15.40,"k":5.2},{"t":3201.875,"m":15.50,"k":-2.9},{"t":3201.925,"m":15.46,"k":-6.0},
{"t":3201.975,"m":15.37,"k":0.0},{"t":3202.025,"m":15.52,"k":4.3},{"t":3202.075,"m":15.43,"k":-3.4},{"t":3202.125,"m":15.49,"k":2.4},{"t":3202.175,"m":15.41,"k":-5.6},{"t":3202.225,"m":15.47,"k":5.8},{"t":3202.275,"m":15.45,"k":-1.8},{"t":3202.325,"m":15.38,"k":3.2},{"t":3202.375,"m":15.51,"k":-4.4},{"t":3202.425,"m":15.42,"k":1.1},
{"t":3202.475,"m":15.48,"k":5.2},{"t":3202.525,"m":15.36,"k":-2.9},{"t":3202.575,"m":15.53,"k":-6.0},{"t":3202.625,"m":15.44,"k":0.0},{"t":3202.675,"m":15.40,"k":4.3},{"t":3202.725,"m":15.50,"k":-3.4},{"t":3202.775,"m":15.46,"k":2.4},{"t":3202.825,"m":15.37,"k":-5.6},{"t":3202.875,"m":15.52,"k":5.8},{"t":3202.925,"m":15.43,"k":-1.8},
{"t":3202.975,"m":15.49,"k":3.2},{"t":3203.025,"m":15.41,"k":-4.4},{"t":3203.075,"m":15.47,"k":1.1},{"t":3203.125,"m":15.45,"k":5.2},{"t":3203.175,"m":15.38,"k":-2.9},{"t":3203.225,"m":15.51,"k":-6.0},{"t":3203.275,"m":15.42,"k":0.0},{"t":3203.325,"m":15.48,"k":4.3},{"t":3203.375,"m":15.36,"k":-3.4},{"t":3203.425,"m":15.53,"k":2.4},
{"t":3203.475,"m":15.44,"k":-5.6},{"t":3203.525,"m":15.40,"k":5.8},{"t":3203.575,"m":15.50,"k":-1.8},{"t":3203.625,"m":15.46,"k":3.2},{"t":3203.675,"m":15.37,"k":-4.4},{"t":3203.725,"m":15.52,"k":1.1},{"t":3203.775,"m":15.43,"k":5.2},{"t":3203.825,"m":15.49,"k":-2.9},{"t":3203.875,"m":15.41,"k":-6.0},{"t":3203.925,"m":15.47,"k":0.0},
{"t":3203.975,"m":15.45,"k":4.3},{"t":3204.025,"m":15.38,"k":-3.4},{"t":3204.075,"m":15.51,"k":2.4},{"t":3204.125,"m":15.42,"k":-5.6},{"t":3204.175,"m":15.48,"k":5.8},{"t":3204.225,"m":15.36,"k":-1.8},{"t":3204.275,"m":15.53,"k":3.2},{"t":3204.325,"m":15.44,"k":-4.4},{"t":3204.375,"m":15.40,"k":1.1},{"t":3204.425,"m":15.50,"k":5.2},
{"t":3204.475,"m":15.46,"k":-2.9},{"t":3204.525,"m":15.37,"k":-6.0},{"t":3204.575,"m":15.52,"k":0.0},{"t":3204.625,"m":15.43,"k":4.3},{"t":3204.675,"m":15.49,"k":-3.4},{"t":3204.725,"m":15.41,"k":2.4},{"t":3204.775,"m":15.47,"k":-5.6},{"t":3204.825,"m":15.45,"k":5.8},{"t":3204.875,"m":15.38,"k":-1.8},{"t":3204.925,"m":15.51,"k":3.2},
{"t":3204.975,"m":15.42,"k":-4.4},{"t":3205.025,"m":15.48,"k":1.1},{"t":3205.075,"m":15.36,"k":5.2},{"t":3205.125,"m":15.53,"k":-2.9},{"t":3205.175,"m":15.44,"k":-6.0},{"t":3205.225,"m":15.40,"k":0.0},{"t":3205.275,"m":15.50,"k":4.3},{"t":3205.325,"m":15.46,"k":-3.4},{"t":3205.375,"m":15.37,"k":2.4},{"t":3205.425,"m":15.52,"k":-5.6},
{"t":3205.475,"m":15.43,"k":5.8},{"t":3205.525,"m":15.49,"k":-1.8},{"t":3205.575,"m":15.50,"k":-13.0},{"t":3205.625,"m":15.36,"k":1.5},{"t":3205.675,"m":15.47,"k":-7.0},{"t":3205.725,"m":15.56,"k":-14.5},{"t":3205.775,"m":15.42,"k":3.0},{"t":3205.825,"m":15.31,"k":-11.5},{"t":3205.875,"m":15.52,"k":-2.5},{"t":3205.925,"m":15.45,"k":-14.0},
{"t":3205.975,"m":15.38,"k":5.0},{"t":3206.025,"m":15.55,"k":-9.5},{"t":3206.075,"m":15.33,"k":-13.0},{"t":3206.125,"m":15.49,"k":-0.5},{"t":3206.175,"m":15.40,"k":-14.8},{"t":3206.225,"m":15.57,"k":4.0},{"t":3206.275,"m":15.28,"k":-10.0},{"t":3206.325,"m":15.46,"k":-14.3},{"t":3206.375,"m":15.54,"k":2.0},{"t":3206.425,"m":15.36,"k":-6.5},
{"t":3206.475,"m":15.50,"k":-13.5},{"t":3206.525,"m":15.43,"k":3.5},{"t":3206.575,"m":15.27,"k":-12.0},{"t":3206.625,"m":15.56,"k":-14.5},{"t":3206.675,"m":15.39,"k":0.5},{"t":3206.725,"m":15.48,"k":-8.0},{"t":3206.775,"m":15.30,"k":8.0},{"t":3206.825,"m":15.55,"k":-14.0},{"t":3206.875,"m":15.26,"k":-10.5},{"t":3206.925,"m":15.44,"k":-14.4},
{"t":3206.975,"m":15.52,"k":-3.0},{"t":3207.025,"m":15.34,"k":-12.5}
],
"p1x": [
{"t":3194.30,"m":14.56,"lo":14.48,"hi":14.64},{"t":3194.30,"m":14.80,"lo":14.70,"hi":14.92},{"t":3194.28,"m":15.05,"lo":14.97,"hi":15.13},{"t":3194.30,"m":15.33,"lo":15.25,"hi":15.43},{"t":3194.58,"m":15.00,"lo":14.82,"hi":15.20},{"t":3207.34,"m":15.26,"lo":15.20,"hi":15.32}
],
"p1tri": [
{"t":3194.52,"m":15.72},{"t":3194.52,"m":15.79},{"t":3194.52,"m":15.86},{"t":3207.57,"m":15.06},{"t":3207.57,"m":15.43},{"t":3207.57,"m":15.51},{"t":3207.57,"m":15.57},{"t":3207.57,"m":15.78},{"t":3207.57,"m":15.86},{"t":3207.57,"m":15.95}
],
"p2x": [
{"t":3194.30,"k":-11.4},{"t":3194.32,"k":-14.5},{"t":3194.60,"k":1.5},{"t":3207.30,"k":-12.0},{"t":3207.32,"k":-14.5}
],
"p3x": [
{"t":3194.30,"c":14.76,"lo":14.65,"hi":14.88},{"t":3194.30,"c":15.04,"lo":14.85,"hi":15.22},{"t":3194.28,"c":15.21,"lo":15.10,"hi":15.32},{"t":3194.28,"c":15.38,"lo":15.28,"hi":15.47},{"t":3194.58,"c":15.24,"lo":15.01,"hi":15.47},{"t":3207.34,"c":15.23,"lo":15.17,"hi":15.30},{"t":3207.34,"c":15.51,"lo":15.42,"hi":15.60}
],
"model": [
{"t":3182.43,"b":0.0},{"t":3182.9,"b":0.2},{"t":3183.4,"b":0.1},{"t":3183.9,"b":0.4},{"t":3184.4,"b":0.3},{"t":3184.9,"b":0.6},{"t":3185.4,"b":0.5},{"t":3185.9,"b":0.8},{"t":3186.4,"b":0.6},{"t":3186.9,"b":0.9},{"t":3187.4,"b":0.7},{"t":3187.9,"b":1.0},{"t":3188.4,"b":0.6},{"t":3188.9,"b":0.8},{"t":3189.4,"b":0.5},{"t":3189.9,"b":0.6},{"t":3190.4,"b":0.3},{"t":3190.9,"b":0.4},{"t":3191.4,"b":0.1},{"t":3191.9,"b":0.2},{"t":3192.3,"b":-0.4},{"t":3192.6,"b":0.0},{"t":3192.9,"b":-1.0},{"t":3193.2,"b":-2.2},{"t":3193.5,"b":-2.4},{"t":3193.8,"b":-3.5},{"t":3194.0,"b":-4.0},{"t":3194.22,"b":-6.3},{"t":3194.45,"b":43.5},{"t":3194.51,"b":33.0},{"t":3194.55,"b":29.0},{"t":3194.58,"b":30.5},{"t":3194.71,"b":11.0},{"t":3194.83,"b":1.5},{"t":3194.94,"b":-2.6},{"t":3195.40,"b":-2.6},{"t":3195.57,"b":0.0},{"t":3196.0,"b":0.3},{"t":3196.5,"b":0.1},{"t":3197.0,"b":0.4},{"t":3197.5,"b":0.2},{"t":3198.0,"b":0.5},{"t":3198.5,"b":0.3},{"t":3199.0,"b":0.6},{"t":3199.5,"b":0.4},{"t":3200.0,"b":0.2},{"t":3200.5,"b":0.5},{"t":3201.0,"b":0.1},{"t":3201.5,"b":0.3},{"t":3202.0,"b":0.0},{"t":3202.5,"b":0.2},{"t":3203.0,"b":-0.1},{"t":3203.5,"b":0.1},{"t":3204.0,"b":-0.2},{"t":3204.5,"b":0.0},{"t":3205.0,"b":-0.3},{"t":3205.5,"b":-0.4},{"t":3205.86,"b":-0.9},{"t":3206.2,"b":-0.8},{"t":3206.5,"b":-1.5},{"t":3206.8,"b":-2.2},{"t":3207.0,"b":-3.5},{"t":3207.2,"b":-4.8},{"t":3207.46,"b":-7.3},{"t":3207.59,"b":0.4},{"t":3208.07,"b":0.4},{"t":3208.2,"b":-2.6}
],
"vline": [{"t":3190.77}],
"note": [{"t":3182.54,"m":14.578,"s":"s69 cam3ccd2"}]
},
"vconcat": [
{
  "width": 496, "height": 123,
  "title": {"text": ["AT2023rsn\u00a0 Gaia23cft", "18.96G-Gaia Unclassified z= -99.0"], "fontSize": 19.4, "fontWeight": "normal", "lineHeight": 22, "offset": 4, "anchor": "middle", "frame": "group", "color": "black"},
  "layer": [
    {"data": {"name": "band"}, "mark": {"type": "circle", "size": 36, "color": "black", "opacity": 1, "clip": true},
     "encoding": {"x": {"field": "t", "type": "quantitative", "scale": {"domain": [3181.11, 3209.46], "nice": false, "zero": false}, "axis": null},
                  "y": {"field": "m", "type": "quantitative", "title": "T mag", "scale": {"domain": [14.393, 16.04], "reverse": true, "nice": false, "zero": false}, "axis": {"values": [14.5, 15.0, 15.5, 16.0], "format": ".1f"}}}},
    {"data": {"name": "p1x"}, "mark": {"type": "rule", "color": "black", "strokeWidth": 1.8, "clip": true},
     "encoding": {"x": {"field": "t", "type": "quantitative"}, "y": {"field": "lo", "type": "quantitative", "title": "T mag"}, "y2": {"field": "hi"}}},
    {"data": {"name": "p1x"}, "mark": {"type": "circle", "size": 36, "color": "black", "opacity": 1, "clip": true},
     "encoding": {"x": {"field": "t", "type": "quantitative"}, "y": {"field": "m", "type": "quantitative", "title": "T mag"}}},
    {"data": {"name": "p1tri"}, "mark": {"type": "point", "shape": "triangle-up", "filled": true, "size": 70, "color": "black", "opacity": 1, "clip": true},
     "encoding": {"x": {"field": "t", "type": "quantitative"}, "y": {"field": "m", "type": "quantitative", "title": "T mag"}}},
    {"data": {"name": "vline"}, "mark": {"type": "rule", "color": "red", "strokeWidth": 2, "strokeDash": [7.4, 3.2]},
     "encoding": {"x": {"field": "t", "type": "quantitative"}}},
    {"data": {"name": "note"}, "mark": {"type": "text", "align": "left", "baseline": "alphabetic", "fontSize": 16.7, "color": "black"},
     "encoding": {"x": {"field": "t", "type": "quantitative"}, "y": {"field": "m", "type": "quantitative", "title": "T mag"}, "text": {"field": "s"}}}
  ]
},
{
  "width": 496, "height": 123,
  "layer": [
    {"data": {"name": "band"}, "mark": {"type": "circle", "size": 46, "color": "#ff0000", "opacity": 1, "clip": true},
     "encoding": {"x": {"field": "t", "type": "quantitative", "scale": {"domain": [3181.11, 3209.46], "nice": false, "zero": false}, "axis": null},
                  "y": {"field": "k", "type": "quantitative", "title": ["Bkg (red)/", "bkg_model (purple)"], "scale": {"domain": [-17.66, 46.23], "nice": false, "zero": false}, "axis": {"values": [0, 20, 40]}}}},
    {"data": {"name": "p2x"}, "mark": {"type": "circle", "size": 46, "color": "#ff0000", "opacity": 1, "clip": true},
     "encoding": {"x": {"field": "t", "type": "quantitative"}, "y": {"field": "k", "type": "quantitative", "title": ["Bkg (red)/", "bkg_model (purple)"]}}},
    {"data": {"name": "model"}, "mark": {"type": "line", "color": "#bf00bf", "strokeWidth": 2, "clip": true},
     "encoding": {"x": {"field": "t", "type": "quantitative"}, "y": {"field": "b", "type": "quantitative", "title": ["Bkg (red)/", "bkg_model (purple)"]}}}
  ]
},
{
  "width": 496, "height": 123,
  "layer": [
    {"data": {"name": "band"}, "mark": {"type": "circle", "size": 36, "color": "black", "opacity": 1, "clip": true},
     "encoding": {"x": {"field": "t", "type": "quantitative", "title": "BTJD −2\u2009457\u2009000", "scale": {"domain": [3181.11, 3209.46], "nice": false, "zero": false}, "axis": {"values": [3185, 3190, 3195, 3200, 3205], "format": "d"}},
                  "y": {"field": "m", "type": "quantitative", "title": ["T mag −", "bkg_model"], "scale": {"domain": [14.59, 15.82], "reverse": true, "nice": false, "zero": false}, "axis": {"values": [15.0, 15.5], "format": ".1f"}}}},
    {"data": {"name": "p3x"}, "mark": {"type": "rule", "color": "black", "strokeWidth": 1.8, "clip": true},
     "encoding": {"x": {"field": "t", "type": "quantitative", "title": "BTJD −2\u2009457\u2009000"}, "y": {"field": "lo", "type": "quantitative", "title": ["T mag −", "bkg_model"]}, "y2": {"field": "hi"}}},
    {"data": {"name": "p3x"}, "mark": {"type": "circle", "size": 36, "color": "black", "opacity": 1, "clip": true},
     "encoding": {"x": {"field": "t", "type": "quantitative", "title": "BTJD −2\u2009457\u2009000"}, "y": {"field": "c", "type": "quantitative", "title": ["T mag −", "bkg_model"]}}}
  ]
}
]
}
